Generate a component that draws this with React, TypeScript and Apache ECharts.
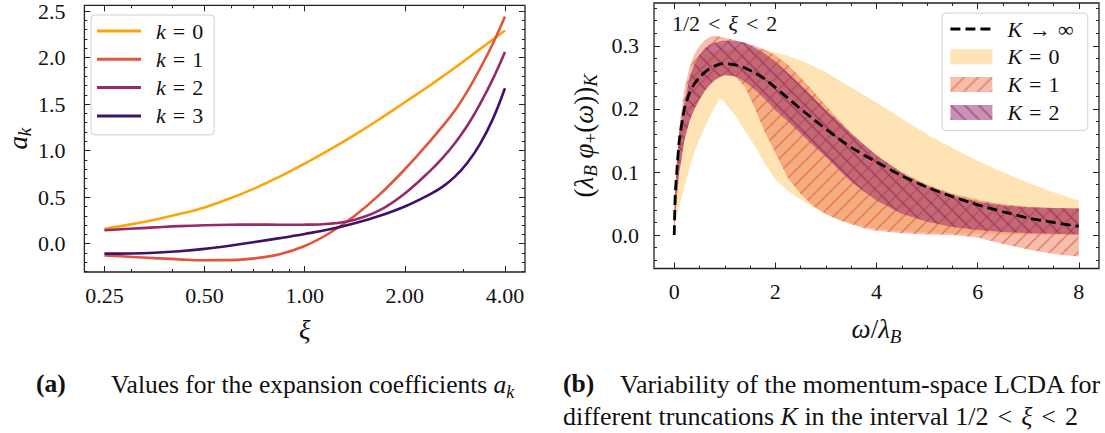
import React, { useEffect, useRef } from "react";
import * as echarts from "echarts";

const W = 1105;
const H = 433;
const FONT = "Liberation Serif";
const INK = "#111";

// ---------------- panel (a): expansion coefficients ----------------
const xiValues = [0.25, 0.297, 0.354, 0.42, 0.5, 0.595, 0.707, 0.841, 1.0, 1.189, 1.414, 1.682, 2.0, 2.378, 2.594, 2.828, 3.084, 3.364, 3.668, 4.0];
const aK0 = [0.16, 0.205, 0.258, 0.318, 0.39, 0.485, 0.595, 0.72, 0.86, 1.01, 1.17, 1.34, 1.52, 1.7, 1.795, 1.89, 1.99, 2.09, 2.19, 2.29];
const aK1 = [-0.125, -0.14, -0.155, -0.168, -0.177, -0.176, -0.158, -0.113, -0.025, 0.115, 0.3, 0.53, 0.8, 1.1, 1.26, 1.43, 1.64, 1.88, 2.14, 2.44];
const aK2 = [0.145, 0.16, 0.175, 0.189, 0.199, 0.204, 0.205, 0.204, 0.205, 0.215, 0.258, 0.36, 0.54, 0.78, 0.92, 1.08, 1.27, 1.5, 1.76, 2.06];
const aK3 = [-0.107, -0.105, -0.097, -0.081, -0.056, -0.022, 0.018, 0.06, 0.105, 0.155, 0.22, 0.3, 0.4, 0.53, 0.61, 0.72, 0.87, 1.07, 1.33, 1.67];
const xiMajorTicks = [0.25, 0.5, 1, 2, 4];
const xiMinorTicks = [0.3, 0.4, 0.6, 0.7, 0.8, 0.9, 3];
const aMajorTicks = [0, 0.5, 1, 1.5, 2, 2.5];
const aMinorTicks = [-0.3, -0.2, -0.1, 0.1, 0.2, 0.3, 0.4, 0.6, 0.7, 0.8, 0.9, 1.1, 1.2, 1.3, 1.4, 1.6, 1.7, 1.8, 1.9, 2.1, 2.2, 2.3, 2.4];

// ---------------- panel (b): LCDA bands ----------------
const omega = [0, 0.02, 0.05, 0.1, 0.2, 0.3, 0.4, 0.5, 0.6, 0.7, 0.8, 0.9, 0.95, 1.0, 1.2, 1.4, 1.6, 1.8, 2.0, 2.25, 2.5, 2.75, 3.0, 3.25, 3.5, 3.75, 4.0, 4.5, 5.0, 5.5, 6.0, 6.5, 7.0, 7.5, 8.0];
const phiInf = [0, 0.065, 0.1, 0.15, 0.2, 0.225, 0.24, 0.25, 0.258, 0.264, 0.268, 0.271, 0.272, 0.272, 0.27, 0.265, 0.257, 0.247, 0.234, 0.217, 0.2, 0.184, 0.168, 0.153, 0.139, 0.127, 0.116, 0.094, 0.076, 0.061, 0.048, 0.037, 0.027, 0.02, 0.014];
const k0Lo = [0.01, 0.018, 0.03, 0.045, 0.075, 0.105, 0.132, 0.152, 0.17, 0.187, 0.203, 0.216, 0.214, 0.21, 0.19, 0.165, 0.14, 0.112, 0.088, 0.07, 0.056, 0.044, 0.034, 0.026, 0.019, 0.014, 0.01, 0.006, 0.004, 0.003, 0.002, 0.001, 0.001, 0.0, 0.0];
const k0Hi = [0.03, 0.06, 0.1, 0.14, 0.2, 0.25, 0.27, 0.282, 0.287, 0.29, 0.292, 0.293, 0.294, 0.294, 0.295, 0.296, 0.295, 0.293, 0.29, 0.284, 0.277, 0.268, 0.258, 0.246, 0.234, 0.222, 0.21, 0.185, 0.16, 0.138, 0.118, 0.1, 0.083, 0.068, 0.055];
const k1Lo = [0.01, 0.03, 0.06, 0.1, 0.15, 0.18, 0.2, 0.215, 0.228, 0.238, 0.245, 0.25, 0.252, 0.253, 0.252, 0.235, 0.2, 0.162, 0.13, 0.09, 0.065, 0.046, 0.033, 0.024, 0.017, 0.011, 0.007, 0.003, 0.001, 0.0, -0.004, -0.014, -0.023, -0.03, -0.034];
const k1Hi = [0.03, 0.07, 0.12, 0.17, 0.23, 0.265, 0.287, 0.3, 0.309, 0.314, 0.316, 0.315, 0.314, 0.313, 0.309, 0.305, 0.3, 0.294, 0.285, 0.27, 0.25, 0.228, 0.205, 0.183, 0.162, 0.143, 0.126, 0.1, 0.08, 0.066, 0.056, 0.049, 0.045, 0.043, 0.042];
const k2Lo = [0.01, 0.03, 0.06, 0.1, 0.15, 0.18, 0.2, 0.215, 0.228, 0.238, 0.246, 0.251, 0.253, 0.254, 0.252, 0.243, 0.23, 0.215, 0.198, 0.18, 0.161, 0.142, 0.124, 0.104, 0.085, 0.069, 0.055, 0.034, 0.021, 0.013, 0.008, 0.005, 0.003, 0.002, 0.001];
const k2Hi = [0.03, 0.07, 0.11, 0.16, 0.21, 0.25, 0.272, 0.286, 0.296, 0.302, 0.305, 0.307, 0.308, 0.308, 0.308, 0.305, 0.297, 0.287, 0.275, 0.257, 0.238, 0.218, 0.198, 0.18, 0.161, 0.144, 0.127, 0.098, 0.077, 0.063, 0.053, 0.047, 0.044, 0.043, 0.042];
const omegaMajorTicks = [0, 2, 4, 6, 8];
const omegaMinorTicks = [0.5, 1, 1.5, 2.5, 3, 3.5, 4.5, 5, 5.5, 6.5, 7, 7.5];
const phiMajorTicks = [0, 0.1, 0.2, 0.3];
const phiMinorTicks = [-0.04, -0.02, 0.02, 0.04, 0.06, 0.08, 0.12, 0.14, 0.16, 0.18, 0.22, 0.24, 0.26, 0.28, 0.32, 0.34, 0.36];

const lineColors = ["#FCA50A", "#E1563A", "#952A66", "#41106A"];

// rich-text styles for math-like labels (italic variables, subscripts, spaced relations)
const mathRich = (size: number) => {
  const rel = Math.round(size * 0.36);
  return {
    i: { fontStyle: "italic", fontFamily: FONT, fontSize: size, lineHeight: size + 6, color: INK },
    s: { fontStyle: "italic", fontFamily: FONT, fontSize: Math.round(size * 0.7), lineHeight: Math.round(size * 0.72), verticalAlign: "bottom", color: INK },
    sr: { fontFamily: FONT, fontSize: Math.round(size * 0.7), lineHeight: Math.round(size * 0.72), verticalAlign: "bottom", color: INK },
    r: { fontFamily: FONT, fontSize: size, lineHeight: size + 6, color: INK },
    eq: { fontFamily: FONT, fontSize: size, lineHeight: size + 6, color: INK, padding: [0, rel, 0, rel] },
  };
};

function hatchPattern(fill: string, line: string | null, dir: number) {
  const s = 14;
  const c = document.createElement("canvas");
  c.width = s;
  c.height = s;
  const g = c.getContext("2d")!;
  g.fillStyle = fill;
  g.fillRect(0, 0, s, s);
  if (line) {
    g.strokeStyle = line;
    g.lineWidth = 1.8;
    g.beginPath();
    for (let k = -1; k <= 1; k++) {
      if (dir > 0) {
        g.moveTo(k * s, s);
        g.lineTo(k * s + s, 0);
      } else {
        g.moveTo(k * s, 0);
        g.lineTo(k * s + s, s);
      }
    }
    g.stroke();
  }
  return { image: c, repeat: "repeat", imageWidth: s, imageHeight: s };
}

function axisSet(
  dim: "x" | "y",
  gridIndex: number,
  base: any,
  major: number[],
  minor: number[],
  fmt: (v: number) => string,
  labelMargin: number,
  nameOpts: any
) {
  const posA = dim === "x" ? "bottom" : "left";
  const posB = dim === "x" ? "top" : "right";
  const common = {
    gridIndex,
    ...base,
    axisLine: { show: false, onZero: false },
    splitLine: { show: false },
    minorTick: { show: false },
  };
  const tick = (vals: number[], len: number) => ({
    show: true,
    inside: true,
    length: len,
    customValues: vals,
    lineStyle: { color: "#222", width: 1 },
  });
  const hidden = { show: false };
  return [
    {
      ...common,
      position: posA,
      axisTick: tick(major, 6),
      axisLabel: {
        show: true,
        customValues: major,
        formatter: (v: any) => "{t|" + fmt(Number(v)) + "}",
        fontFamily: FONT,
        fontSize: 22,
        color: INK,
        margin: labelMargin,
        rich: { t: { fontFamily: FONT, fontSize: 22, color: INK, lineHeight: 24 } },
      },
      ...nameOpts,
    },
    { ...common, position: posA, axisTick: tick(minor, 3), axisLabel: hidden },
    { ...common, position: posB, axisTick: tick(major, 6), axisLabel: hidden },
    { ...common, position: posB, axisTick: tick(minor, 3), axisLabel: hidden },
  ];
}

function buildOption() {
  const xiMin = 0.25 / Math.pow(2, 0.2);
  const xiMax = 4 * Math.pow(2, 0.2);

  const patK0 = "rgba(252,165,10,0.3)";
  const patK1 = hatchPattern("rgba(227,89,51,0.4)", "rgba(227,89,51,0.55)", 1);
  const patK2 = hatchPattern("rgba(147,38,103,0.5)", "rgba(147,38,103,0.55)", -1);

  const NS = 27;
  const nameStyle = { fontFamily: FONT, fontSize: NS, lineHeight: NS + 6, color: INK, rich: mathRich(NS) };

  const xAxes = [
    ...axisSet("x", 0, { type: "log", logBase: 2, min: xiMin, max: xiMax }, xiMajorTicks, xiMinorTicks, (v) => v.toFixed(2), 11, {
      name: "{i|ξ}",
      nameLocation: "middle",
      nameGap: 41,
      nameTextStyle: nameStyle,
    }),
    ...axisSet("x", 1, { type: "value", min: -0.4, max: 8.4 }, omegaMajorTicks, omegaMinorTicks, (v) => String(Math.round(v)), 11, {
      name: "{i|ω}/{i|λ}{s|B}",
      nameLocation: "middle",
      nameGap: 44,
      nameTextStyle: nameStyle,
    }),
  ];
  const yAxes = [
    ...axisSet("y", 0, { type: "value", min: -0.304, max: 2.561 }, aMajorTicks, aMinorTicks, (v) => v.toFixed(1), 19, {
      name: "{i|a}{s|k}",
      nameLocation: "middle",
      nameRotate: 90,
      nameGap: 48,
      nameTextStyle: nameStyle,
    }),
    ...axisSet("y", 1, { type: "value", min: -0.053, max: 0.368 }, phiMajorTicks, phiMinorTicks, (v) => v.toFixed(1), 15, {
      name: "({i|λ}{s|B} {i|φ}{sr|+}({i|ω})){s|K}",
      nameLocation: "middle",
      nameRotate: 90,
      nameGap: 54,
      nameTextStyle: nameStyle,
    }),
  ];

  const lineSeries = [aK0, aK1, aK2, aK3].map((vals, k) => ({
    type: "line",
    name: "a" + k,
    xAxisIndex: 0,
    yAxisIndex: 0,
    data: xiValues.map((x, i) => [x, vals[i]]),
    symbol: "none",
    smooth: 0.4,
    color: lineColors[k],
    lineStyle: { width: 2.6, color: lineColors[k] },
    z: 2 + k,
  }));

  const band = (name: string, lo: number[], hi: number[], fill: any, z: number) => ({
    type: "custom",
    name,
    xAxisIndex: 4,
    yAxisIndex: 4,
    z,
    silent: true,
    itemStyle: { color: fill },
    data: omega.map((w, i) => [w, lo[i], hi[i]]),
    encode: { x: 0, y: [1, 2] },
    renderItem: (params: any, api: any) => {
      if (params.dataIndex !== 0) return null;
      const upper = omega.map((w, i) => api.coord([w, hi[i]]));
      const lower = omega.map((w, i) => api.coord([w, lo[i]])).reverse();
      return {
        type: "polygon",
        shape: { points: upper.concat(lower) },
        style: { fill, stroke: "none" },
      };
    },
  });

  const legendText = () => ({
    fontFamily: FONT,
    fontSize: 22,
    lineHeight: 22,
    color: INK,
    padding: [0, 0, 0, 10],
    rich: {
      i: { fontStyle: "italic", fontFamily: FONT, fontSize: 22, lineHeight: 22, color: INK },
      eq: { fontFamily: FONT, fontSize: 22, lineHeight: 22, color: INK, padding: [0, 7, 0, 7] },
    },
  });

  const legendNames: Record<string, string> = {
    a0: "{i|k}{eq|=}0",
    a1: "{i|k}{eq|=}1",
    a2: "{i|k}{eq|=}2",
    a3: "{i|k}{eq|=}3",
    Kinf: "{i|K}{eq|→}∞",
    K0: "{i|K}{eq|=}0",
    K1: "{i|K}{eq|=}1",
    K2: "{i|K}{eq|=}2",
  };

  const CAP = 25.5;

  return {
    animation: false,
    backgroundColor: "#fff",
    textStyle: { fontFamily: FONT, color: INK },
    grid: [
      { left: 81, right: W - 525, top: 4, bottom: H - 272, show: true, borderColor: "#222", borderWidth: 1.3, backgroundColor: "transparent", containLabel: false },
      { left: 654, right: W - 1099, top: 3, bottom: H - 268.5, show: true, borderColor: "#222", borderWidth: 1.3, backgroundColor: "transparent", containLabel: false },
    ],
    xAxis: xAxes,
    yAxis: yAxes,
    legend: [
      {
        orient: "vertical",
        left: 91,
        top: 15,
        padding: [5, 11, 8, 6],
        itemGap: 6.3,
        itemWidth: 44,
        itemHeight: 3,
        icon: "rect",
        backgroundColor: "#fff",
        borderColor: "#d0d0d0",
        borderWidth: 1,
        borderRadius: 4,
        data: ["a0", "a1", "a2", "a3"],
        formatter: (n: string) => legendNames[n],
        textStyle: legendText(),
        selectedMode: false,
      },
      {
        orient: "vertical",
        left: 942,
        top: 13,
        padding: [5, 14, 7, 7],
        itemGap: 5.8,
        itemWidth: 42,
        itemHeight: 15,
        backgroundColor: "#fff",
        borderColor: "#d0d0d0",
        borderWidth: 1,
        borderRadius: 4,
        data: [
          { name: "Kinf", itemStyle: { opacity: 0 }, lineStyle: { color: "#000", width: 2.8, type: [10, 5], opacity: 1 } },
          { name: "K0", icon: "rect", itemStyle: { color: patK0 } },
          { name: "K1", icon: "rect", itemStyle: { color: patK1 } },
          { name: "K2", icon: "rect", itemStyle: { color: patK2 } },
        ],
        formatter: (n: string) => legendNames[n],
        textStyle: legendText(),
        selectedMode: false,
      },
    ],
    series: [
      ...lineSeries,
      band("K0", k0Lo, k0Hi, patK0, 2),
      band("K1", k1Lo, k1Hi, patK1, 3),
      band("K2", k2Lo, k2Hi, patK2, 4),
      {
        type: "line",
        name: "Kinf",
        xAxisIndex: 4,
        yAxisIndex: 4,
        data: omega.map((w, i) => [w, phiInf[i]]),
        symbol: "none",
        smooth: 0.2,
        color: "#000",
        lineStyle: { color: "#000", width: 2.8, type: [10, 5] },
        z: 6,
      },
    ],
    graphic: [
      {
        type: "text",
        left: 672,
        top: 9,
        style: { text: "1/2{eq|<}{i|ξ}{eq|<}2", fontFamily: FONT, fontSize: 22, lineHeight: 28, fill: INK, rich: mathRich(22) },
      },
      {
        type: "text",
        left: 36,
        top: 370,
        style: { text: "(a)", fontFamily: FONT, fontWeight: "bold", fontSize: CAP, fill: INK },
      },
      {
        type: "text",
        left: 111,
        top: 369,
        style: {
          text: "Values for the expansion coefficients {i|a}{s|k}",
          fontFamily: FONT,
          fontSize: CAP,
          lineHeight: 31,
          fill: INK,
          rich: mathRich(CAP),
        },
      },
      {
        type: "text",
        left: 563,
        top: 370,
        style: { text: "(b)", fontFamily: FONT, fontWeight: "bold", fontSize: CAP, fill: INK },
      },
      {
        type: "text",
        left: 620,
        top: 369,
        style: { text: "Variability of the momentum-space LCDA for", fontFamily: FONT, fontSize: 26, lineHeight: 31, fill: INK },
      },
      {
        type: "text",
        left: 563,
        top: 400,
        style: {
          text: "different truncations {i|K} in the interval 1/2{eq|<}{i|ξ}{eq|<}2",
          fontFamily: FONT,
          fontSize: 26,
          lineHeight: 31,
          fill: INK,
          rich: mathRich(26),
        },
      },
    ],
  };
}

export default function App() {
  const ref = useRef<HTMLDivElement>(null);
  useEffect(() => {
    document.body.style.margin = "0";
    const chart = echarts.init(ref.current!, null, { renderer: "svg", width: W, height: H });
    chart.setOption(buildOption() as any);
    return () => chart.dispose();
  }, []);
  return <div ref={ref} style={{ width: W, height: H }} />;
}
